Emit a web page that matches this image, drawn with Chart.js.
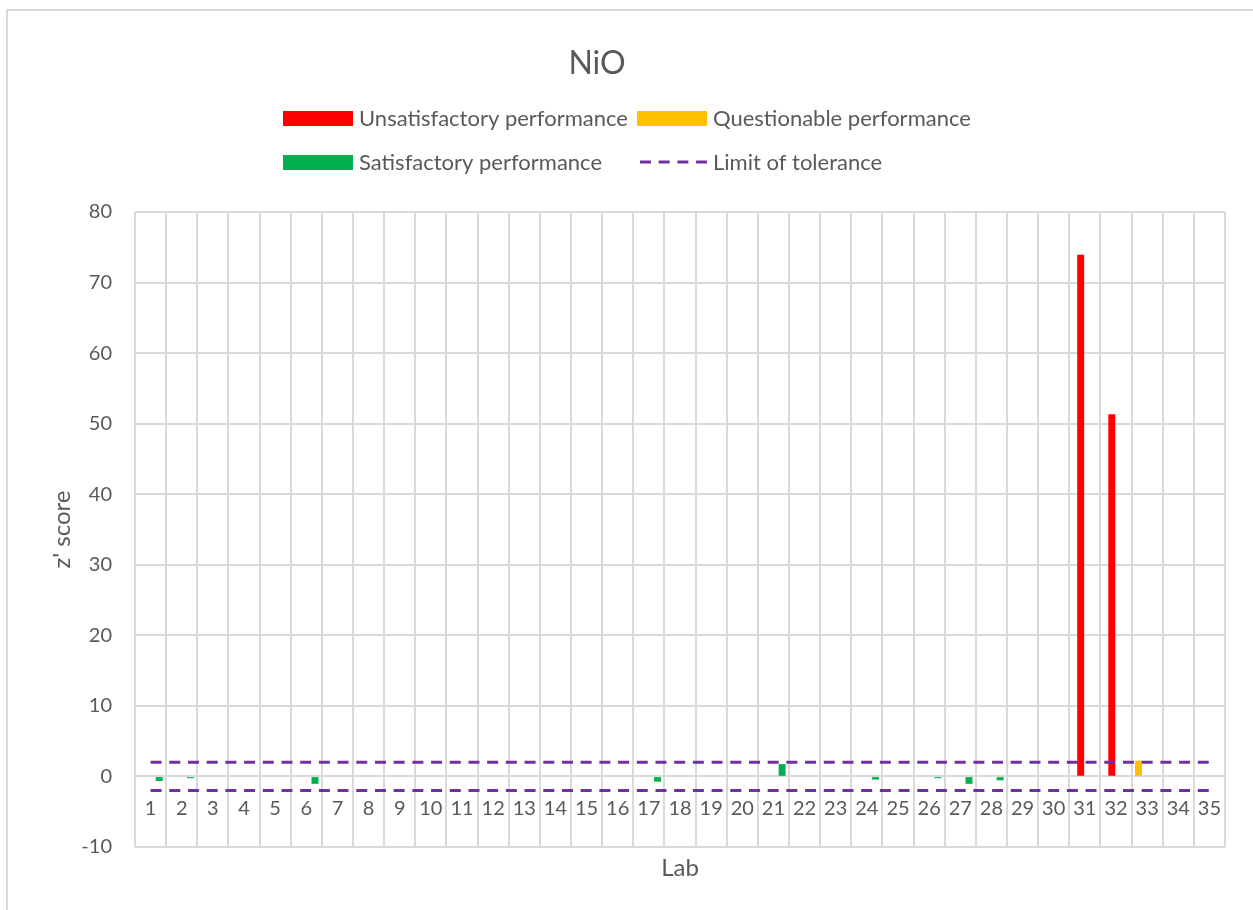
<!DOCTYPE html>
<html>
<head>
<meta charset="utf-8">
<title>NiO z' score</title>
<script src="https://cdn.jsdelivr.net/npm/chart.js@4.4.1/dist/chart.umd.min.js"></script>
<style>
  html, body { margin: 0; padding: 0; background: #fff; }
  #wrap { position: relative; width: 1253px; height: 910px; }
  #frame { position: absolute; left: 6px; top: 9px; right: 0; bottom: 0;
           border-top: 2px solid #d9d9d9; border-left: 2px solid #d9d9d9; pointer-events: none; }
</style>
</head>
<body>
<div id="wrap">
  <canvas id="chart" width="1253" height="910"></canvas>
  <div id="frame"></div>
</div>
<script>
// Labs on the x axis
const labs = ['1', '2', '3', '4', '5', '6', '7', '8', '9', '10', '11', '12', '13', '14', '15', '16', '17', '18',
              '19', '20', '21', '22', '23', '24', '25', '26', '27', '28', '29', '30', '31', '32', '33', '34', '35'];

// z' scores per performance class (null = no bar)
const unsatisfactory = [null, null, null, null, null, null, null, null, null, null, null, null, null, null, null, null, null, null,
                        null, null, null, null, null, null, null, null, null, null, null, null, 73.9, 51.3, null, null, null];
const questionable   = [null, null, null, null, null, null, null, null, null, null, null, null, null, null, null, null, null, null,
                        null, null, null, null, null, null, null, null, null, null, null, null, null, null, 2.2, null, null];
const satisfactory   = [-0.6, -0.2, null, null, null, -1.0, null, null, null, null, null, null, null, null, null, null, -0.7, null,
                        null, null, 1.7, null, null, -0.4, null, -0.2, -1.0, -0.5, null, null, null, null, null, null, null];

// limit of tolerance, |z'| = 2
const upperLimit = [2, 2, 2, 2, 2, 2, 2, 2, 2, 2, 2, 2, 2, 2, 2, 2, 2, 2, 2, 2, 2, 2, 2, 2, 2, 2, 2, 2, 2, 2, 2, 2, 2, 2, 2];
const lowerLimit = [-2, -2, -2, -2, -2, -2, -2, -2, -2, -2, -2, -2, -2, -2, -2, -2, -2, -2, -2, -2, -2, -2, -2, -2, -2, -2, -2, -2, -2, -2, -2, -2, -2, -2, -2];

// y axis range
const yMin = -10;
const yMax = 80;
const yStep = 10;

const textColor = '#595959';
const gridColor = '#d9d9d9';
const fontName = 'Lato';

// Title and a two-column legend, Excel style
const titleAndLegend = {
    id: 'titleAndLegend',
    afterDraw(chart) {
        const ctx = chart.ctx;
        ctx.save();
        ctx.fillStyle = textColor;
        ctx.font = '32px ' + fontName;
        ctx.textAlign = 'center';
        ctx.textBaseline = 'middle';
        ctx.fillText('NiO', 597, 64);

        ctx.font = '22px ' + fontName;
        ctx.textAlign = 'left';
        const cols = [283, 637];
        const rows = [118, 162];
        const items = chart.data.datasets.filter(ds => ds.inLegend !== false);
        items.forEach((ds, i) => {
            const x = cols[i % 2];
            const y = rows[Math.floor(i / 2)];
            if (ds.type === 'line') {
                ctx.strokeStyle = ds.borderColor;
                ctx.lineWidth = ds.borderWidth;
                ctx.setLineDash(ds.borderDash);
                ctx.beginPath();
                ctx.moveTo(x + 3, y);
                ctx.lineTo(x + 70, y);
                ctx.stroke();
                ctx.setLineDash([]);
            } else {
                ctx.fillStyle = ds.backgroundColor;
                ctx.fillRect(x, y - 7, 70, 15);
            }
            ctx.fillStyle = textColor;
            ctx.fillText(ds.label, x + 76, y + 1);
        });
        ctx.restore();
    }
};

const ctx = document.getElementById('chart').getContext('2d');

const chart = new Chart(ctx, {
    type: 'bar',
    data: {
        labels: labs,
        datasets: [
            // red and yellow share the left slot, green sits in the right one
            {
                label: 'Unsatisfactory performance',
                data: unsatisfactory,
                backgroundColor: '#ff0000',
                stack: 'outside',
                barThickness: 8.4,
                maxBarThickness: 6.3,
                order: 1
            },
            {
                label: 'Questionable performance',
                data: questionable,
                backgroundColor: '#ffc000',
                stack: 'outside',
                barThickness: 17.2,
                maxBarThickness: 6.3,
                order: 1
            },
            {
                label: 'Satisfactory performance',
                data: satisfactory,
                backgroundColor: '#00b050',
                barThickness: 17.4,
                maxBarThickness: 6.3,
                order: 1
            },
            {
                type: 'line',
                label: 'Limit of tolerance',
                data: upperLimit,
                borderColor: '#7030a0',
                borderWidth: 3,
                borderDash: [11, 7.7],
                pointRadius: 0,
                fill: false,
                order: 0
            },
            {
                type: 'line',
                label: 'Limit of tolerance',
                data: lowerLimit,
                borderColor: '#7030a0',
                borderWidth: 3,
                borderDash: [11, 7.7],
                pointRadius: 0,
                fill: false,
                order: 0,
                inLegend: false
            }
        ]
    },
    options: {
        responsive: false,
        devicePixelRatio: 1,
        animation: false,
        layout: {
            padding: { top: 212, right: 28, bottom: 0, left: 0 }
        },
        scales: {
            x: {
                position: { y: 0 },
                offset: true,
                grid: { offset: true, color: gridColor, lineWidth: 2, drawTicks: false },
                border: { color: gridColor, width: 2 },
                ticks: {
                    color: textColor,
                    font: { family: fontName, size: 20 },
                    padding: 20,
                    maxRotation: 0,
                    autoSkip: false
                }
            },
            x2: {
                type: 'category',
                position: 'bottom',
                grid: { display: false },
                border: { display: false },
                ticks: { display: false },
                title: {
                    display: true,
                    text: 'Lab',
                    color: textColor,
                    font: { family: fontName, size: 24 },
                    padding: { top: 0, bottom: 27 }
                },
                afterFit(scale) {
                    scale.height = 63;
                }
            },
            y: {
                min: yMin,
                max: yMax,
                grid: { color: gridColor, lineWidth: 2, drawTicks: false },
                border: { display: false },
                ticks: {
                    stepSize: yStep,
                    color: textColor,
                    font: { family: fontName, size: 20 },
                    padding: 23
                },
                title: {
                    display: true,
                    text: "z' score",
                    color: textColor,
                    font: { family: fontName, size: 24 },
                    padding: { top: 48, bottom: 0 }
                },
                afterFit(scale) {
                    scale.width = 135;
                }
            }
        },
        plugins: {
            legend: { display: false },
            title: { display: false },
            tooltip: { enabled: false }
        }
    },
    plugins: [titleAndLegend]
});
</script>
</body>
</html>
